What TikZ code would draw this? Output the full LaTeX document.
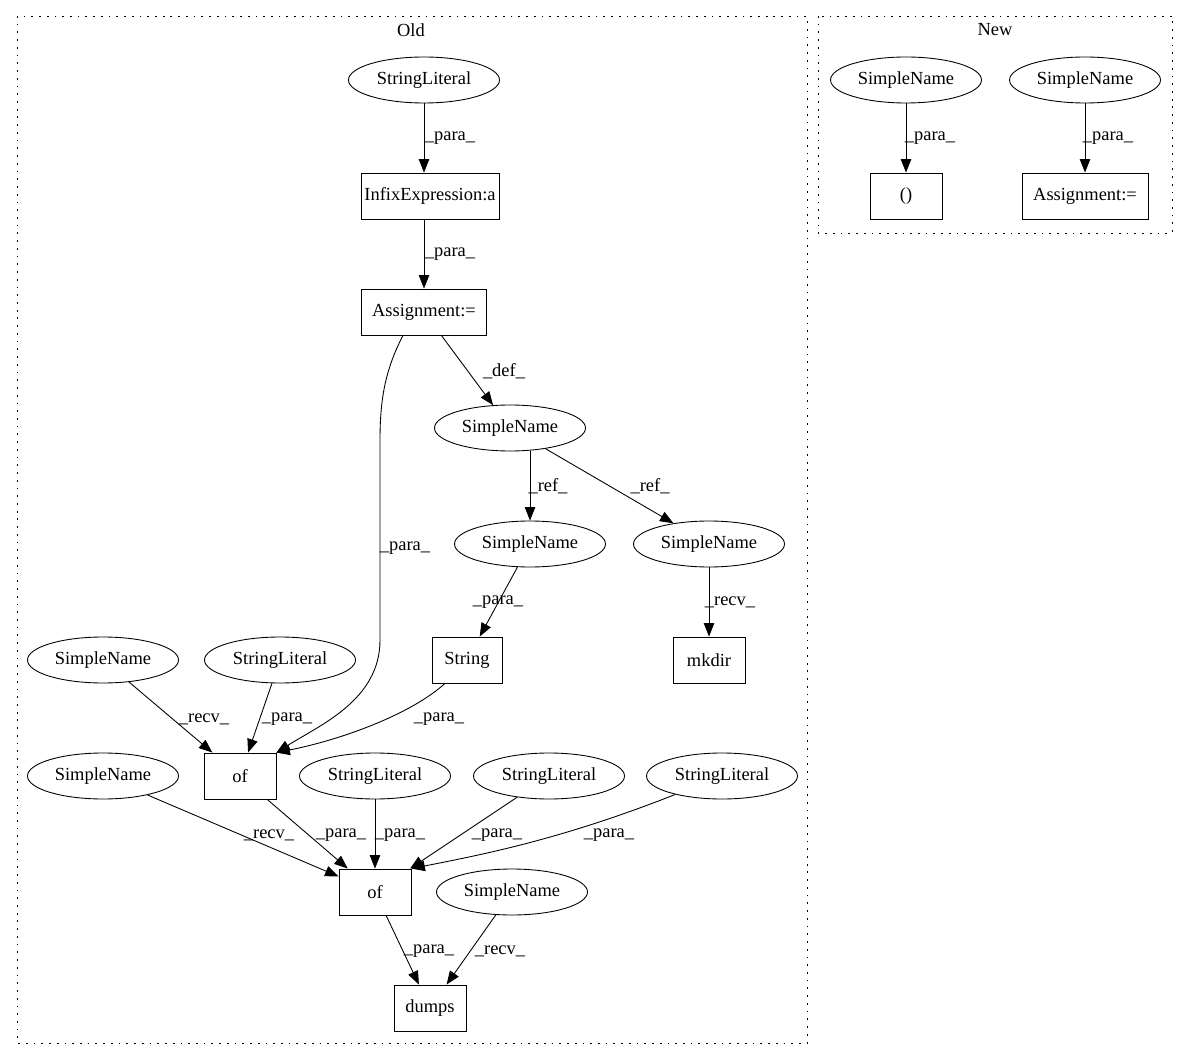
\documentclass[tikz,border=0pt]{standalone}
\usepackage{fontspec}
\setmainfont{Liberation Serif}
\usetikzlibrary{shapes.geometric,arrows.meta}

\tikzset{
  every node/.style={font=\fontsize{10.5}{12}\selectfont},
  ell/.style={draw, ellipse, minimum width=3.02cm, minimum height=0.92cm, inner sep=0pt},
  box/.style={draw, rectangle, minimum width=1.44cm, minimum height=0.92cm, inner sep=0pt},
  lbl/.style={inner sep=0pt},
  cluster/.style={draw, dash pattern=on 1pt off 3.4pt}
}

\begin{document}
\begin{tikzpicture}[x=0.02cm, y=-0.02cm, >={Triangle[length=0.27cm,width=0.21cm]}, line width=0.5pt]
\useasboundingbox (0,0) rectangle (1189,1060);
% clusters
\draw[cluster] (17,16) rectangle (807,1043);
\node (old) at (411,30) {Old};
\draw[cluster] (818,16) rectangle (1172,233);
\node (new) at (995,30) {New};

% old
\node[ell] (sl1) at (424,80) {StringLiteral};
\node[box, minimum width=2.76cm] (infix) at (430,196) {InfixExpression:a};
\node[box, minimum width=2.5cm] (assign) at (424,312) {Assignment:=};
\node[ell] (sn1) at (510,428) {SimpleName};
\node[ell] (sn2) at (530,544) {SimpleName};
\node[ell] (sn3) at (709,544) {SimpleName};
\node[box, minimum width=1.4cm] (string) at (467,660) {String};
\node[box] (mkdir) at (709,660) {mkdir};
\node[ell] (sn4) at (103,660) {SimpleName};
\node[ell] (sl2) at (280,660) {StringLiteral};
\node[box] (of1) at (240,776) {of};
\node[ell] (sn5) at (103,776) {SimpleName};
\node[ell] (sl3) at (375,776) {StringLiteral};
\node[ell] (sl4) at (549,776) {StringLiteral};
\node[ell] (sl5) at (722,776) {StringLiteral};
\node[box] (of2) at (375,892) {of};
\node[ell] (sn6) at (512,892) {SimpleName};
\node[box] (dumps) at (430,1008) {dumps};

\draw[->] (sl1) -- (sl1 |- infix.north) node[lbl] at (450,138) {\_para\_};
\draw[->] (infix.south -| assign) -- (assign) node[lbl] at (450,254) {\_para\_};
\draw[->] (assign) -- (sn1) node[lbl] at (504,371) {\_def\_};
\draw[->] ([xshift=-0.42cm]assign.south) .. controls (385,370) and (380,400) .. (380,440)
  -- (380,640) .. controls (380,700) and (320,725) .. (of1.north east)
  node[lbl] at (405,548) {\_para\_};
\draw[->] (sn1.south -| sn2) -- (sn2) node[lbl] at (548,486) {\_ref\_};
\draw[->] (sn1) -- (sn3) node[lbl] at (650,486) {\_ref\_};
\draw[->] (sn2) -- (string) node[lbl] at (498,602) {\_para\_};
\draw[->] (sn3) -- (mkdir) node[lbl] at (730,602) {\_recv\_};
\draw[->] (sn4) -- (of1) node[lbl] at (204,719) {\_recv\_};
\draw[->] (sl2) -- (of1) node[lbl] at (287,719) {\_para\_};
\draw[->] ([xshift=-0.44cm]string.south) .. controls (410,715) and (340,740) .. (of1.north east)
  node[lbl] at (439,719) {\_para\_};
\draw[->] (sn5) -- (of2) node[lbl] at (269,835) {\_recv\_};
\draw[->] (of1) -- (of2) node[lbl] at (341,835) {\_para\_};
\draw[->] (sl3) -- (of2) node[lbl] at (400,835) {\_para\_};
\draw[->] (sl4) -- (of2) node[lbl] at (497,835) {\_para\_};
\draw[->] (sl5) .. controls (560,840) and (480,855) .. (of2.north east)
  node[lbl] at (609,835) {\_para\_};
\draw[->] (of2) -- (dumps) node[lbl] at (429,951) {\_para\_};
\draw[->] (sn6) -- (dumps) node[lbl] at (500,951) {\_recv\_};

% new
\node[ell] (sn7) at (906,80) {SimpleName};
\node[ell] (sn8) at (1085,80) {SimpleName};
\node[box] (paren) at (906,196) {()};
\node[box, minimum width=2.52cm] (assign2) at (1085,196) {Assignment:=};
\draw[->] (sn7) -- (paren) node[lbl] at (930,138) {\_para\_};
\draw[->] (sn8) -- (assign2) node[lbl] at (1108,138) {\_para\_};
\end{tikzpicture}
\end{document}
